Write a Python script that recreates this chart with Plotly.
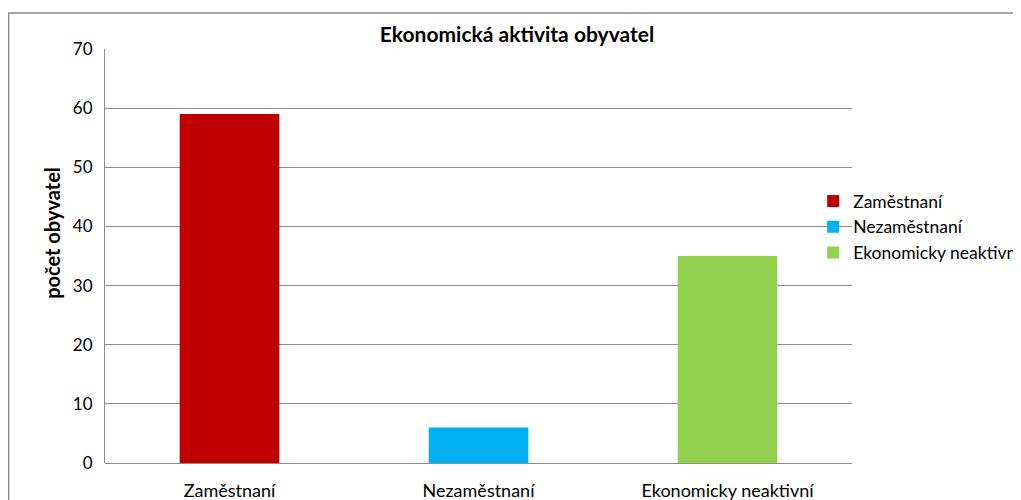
import plotly.graph_objects as go

# data
categories = ["Zaměstnaní", "Nezaměstnaní", "Ekonomicky neaktivní"]
legend_names = ["Zaměstnaní", "Nezaměstnaní", "Ekonomicky neaktivni"]
values = [59, 6, 35]
colors = ["#C00000", "#00B0F0", "#92D050"]
y_ticks = [0, 10, 20, 30, 40, 50, 60, 70]

FONT = "Lato, 'Open Sans', sans-serif"

fig = go.Figure()

for i, (cat, name, val, col) in enumerate(zip(categories, legend_names, values, colors)):
    fig.add_trace(go.Bar(
        x=[cat],
        y=[val],
        name=name,
        legendgroup=f"g{i}",
        marker=dict(color=col, line_width=0),
    ))

# chart outer border (Excel style frame)
fig.add_shape(
    type="rect", xref="paper", yref="paper",
    x0=-0.129, x1=1.3, y0=-0.3, y1=1.087,
    line=dict(color="#8a8a8a", width=1.5),
    fillcolor="rgba(0,0,0,0)", layer="below",
)

# y axis title, placed like in the Excel original (a bit above centre)
fig.add_annotation(
    text="<b>počet obyvatel</b>",
    xref="paper", yref="paper",
    x=0, y=0.556, xshift=-53,
    xanchor="center", yanchor="middle",
    textangle=-90, showarrow=False,
    font=dict(size=20, family=FONT, color="#000000"),
)

# page body adds 8px, so the figure is 1013x492 to fill the 1021x500 window
fig.update_layout(
    width=1013, height=492,
    template="plotly_white",
    plot_bgcolor="white",
    paper_bgcolor="white",
    barmode="overlay",
    bargap=0.6,
    font=dict(family=FONT, size=18, color="#000000"),
    title=dict(
        text="<b>Ekonomická aktivita obyvatel</b>",
        x=0.5515, xref="paper", xanchor="center",
        y=0.945, yref="container", yanchor="middle",
        font=dict(size=21, family=FONT, color="#000000"),
    ),
    legend=dict(
        x=0.948, xanchor="left",
        y=0.57, yanchor="middle",
        traceorder="normal",
        font=dict(size=17.5, family=FONT),
        itemwidth=30,
        tracegroupgap=6,
        bgcolor="rgba(0,0,0,0)",
    ),
    margin=dict(l=97, r=169, t=41, b=37, autoexpand=False),
)

fig.update_xaxes(
    showgrid=False,
    showline=False,
    ticks="",
    ticklabelstandoff=15,
    tickfont=dict(size=18, family=FONT, color="#000000"),
)

fig.update_yaxes(
    range=[0, 70],
    tickvals=y_ticks,
    showgrid=True,
    gridcolor="#8c8c8c",
    gridwidth=1,
    zeroline=True,
    zerolinecolor="#8c8c8c",
    zerolinewidth=1,
    showline=True,
    linecolor="#8c8c8c",
    linewidth=1,
    ticks="",
    ticklabelstandoff=8,
    tickfont=dict(size=17, family=FONT, color="#000000"),
)

fig.write_html("out.html")
